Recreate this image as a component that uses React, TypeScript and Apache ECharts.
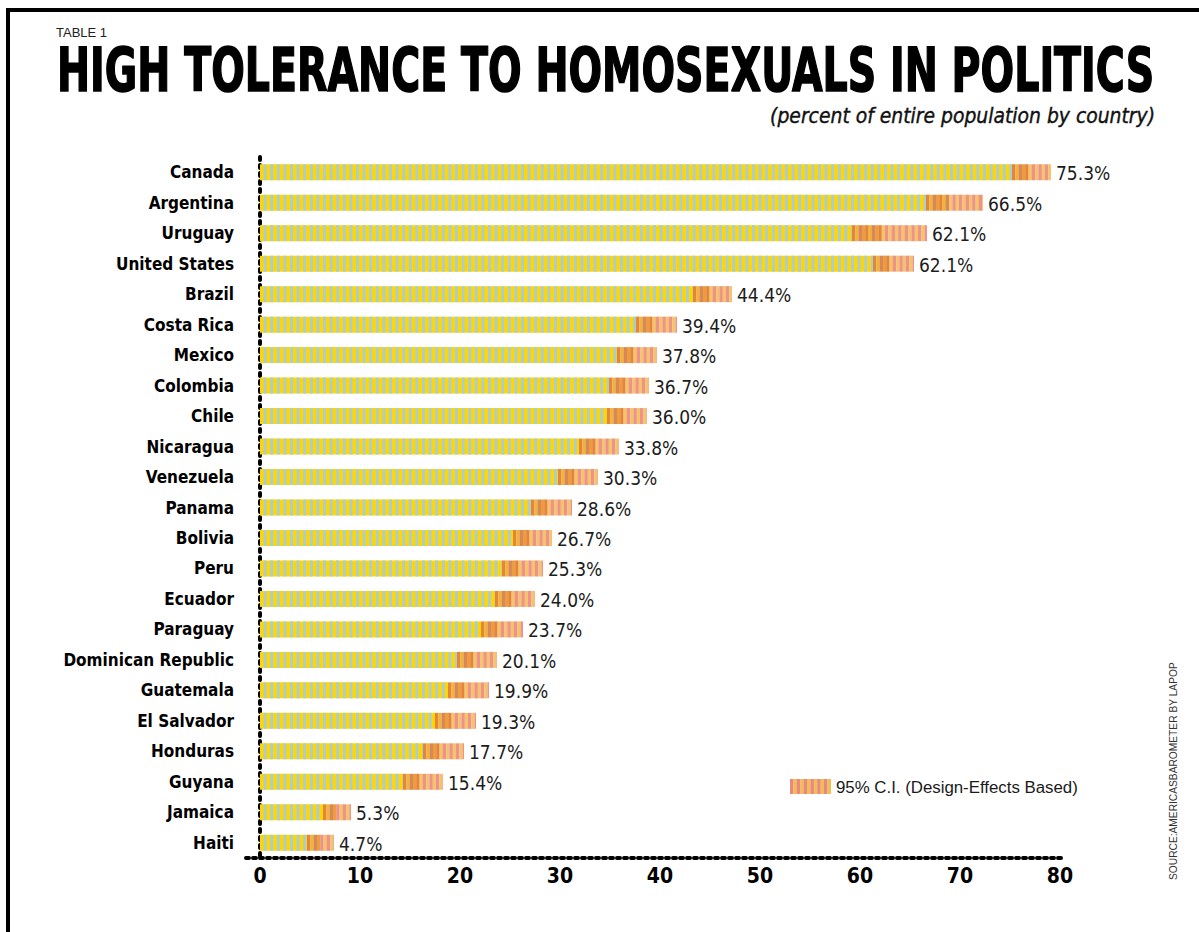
import React, { useEffect, useRef } from "react";
import * as echarts from "echarts";

const countries = [
  "Canada", "Argentina", "Uruguay", "United States", "Brazil", "Costa Rica",
  "Mexico", "Colombia", "Chile", "Nicaragua", "Venezuela", "Panama", "Bolivia",
  "Peru", "Ecuador", "Paraguay", "Dominican Republic", "Guatemala",
  "El Salvador", "Honduras", "Guyana", "Jamaica", "Haiti",
];
const values = [75.3, 66.5, 62.1, 62.1, 44.4, 39.4, 37.8, 36.7, 36.0, 33.8, 30.3, 28.6, 26.7, 25.3, 24.0, 23.7, 20.1, 19.9, 19.3, 17.7, 15.4, 5.3, 4.7];
// start of the drawn confidence segment (end of the solid bar)
const ciLow = [75.2, 66.6, 59.2, 61.3, 43.3, 37.6, 35.7, 34.9, 34.7, 31.9, 29.8, 27.1, 25.3, 24.2, 23.5, 22.1, 19.7, 18.8, 17.5, 16.3, 14.3, 6.3, 4.7];
// end of the drawn confidence segment
const ciHigh = [79.1, 72.3, 66.7, 65.4, 47.2, 41.7, 39.7, 38.9, 38.7, 35.9, 33.8, 31.2, 29.2, 28.3, 27.5, 26.3, 23.7, 22.9, 21.6, 20.4, 18.3, 9.1, 7.4];
const xTicks = [0, 10, 20, 30, 40, 50, 60, 70, 80];

const titleText = "HIGH TOLERANCE TO HOMOSEXUALS IN POLITICS";
const subtitleText = "(percent of entire population by country)";
const legendText = "95% C.I. (Design-Effects Based)";
const sourceText = "SOURCE:AMERICASBAROMETER BY LAPOP";

const NARROW = "'Liberation Sans Narrow', 'DejaVu Sans Condensed', 'Arial Narrow', sans-serif";
const SANS = "'Liberation Sans', Arial, sans-serif";

const YELLOW = "#FFD600";
const BLUE = "#A9CDD5";
const CI_A = ["#E5843A", "#F0B43A", "#D8875A", "#EE9D3E"];
const CI_B = ["#EE928A", "#F3C46C"];

function fitScale(text: string, font: string, target: number) {
  const ctx = document.createElement("canvas").getContext("2d");
  if (!ctx) return 1;
  ctx.font = font;
  const w = ctx.measureText(text).width;
  return w > 0 ? target / w : 1;
}

export default function App() {
  const ref = useRef<HTMLDivElement>(null);

  useEffect(() => {
    if (!ref.current) return;
    const chart = echarts.init(ref.current, null, { renderer: "svg" });

    const titleFont = `bold 60px ${NARROW}`;
    const subFont = `italic 22px ${NARROW}`;
    const legFont = `16px ${SANS}`;
    const srcFont = `11px ${SANS}`;
    const titleScale = fitScale(titleText, titleFont, 1098);
    const subScale = fitScale(subtitleText, subFont, 385);
    const legScale = fitScale(legendText, legFont, 242);
    const srcScale = fitScale(sourceText, srcFont, 218);

    const data = countries.map((c, i) => [i, ciLow[i], ciHigh[i], values[i]]);

    const renderItem = (params: any, api: any) => {
      const i = api.value(0);
      const low = api.value(1);
      const high = api.value(2);
      const p0 = api.coord([0, i]);
      const p1 = api.coord([low, i]);
      const p2 = api.coord([high, i]);
      const bh = 16;
      const y = p0[1] - bh / 2;
      const children: any[] = [];
      const rect = (x: number, w: number, fill: string) => ({
        type: "rect",
        shape: { x, y, width: w, height: bh },
        style: { fill },
        silent: true,
      });
      children.push(rect(p0[0], p1[0] - p0[0], YELLOW));
      for (let x = p0[0] + 3.6; x < p1[0]; x += 6.6) {
        children.push(rect(x, Math.min(3, p1[0] - x), BLUE));
      }
      const split = p1[0] + (p2[0] - p1[0]) * 0.38;
      let k = 0;
      for (let x = p1[0]; x < p2[0] - 0.2; x += 3.3, k++) {
        const color = x < split ? CI_A[k % CI_A.length] : CI_B[k % CI_B.length];
        children.push(rect(x, Math.min(3.5, p2[0] - x), color));
      }
      children.push({
        type: "text",
        silent: true,
        style: {
          text: values[params.dataIndex].toFixed(1) + "%",
          x: p2[0] + 5,
          y: p0[1] + 1,
          verticalAlign: "middle",
          align: "left",
          fill: "#1c1c1c",
          fontSize: 19,
          fontFamily: NARROW,
        },
      });
      return { type: "group", children };
    };

    const legendStripes: any[] = [];
    for (let j = 0; j < 12; j++) {
      legendStripes.push({
        type: "rect",
        shape: { x: 790 + j * 3.4, y: 779, width: 3.6, height: 15 },
        style: { fill: j % 2 === 0 ? "#E9897F" : "#F1BD57" },
      });
    }

    chart.setOption({
      animation: false,
      backgroundColor: "#ffffff",
      grid: { left: 246, right: 135, top: 157, bottom: 74, containLabel: false },
      xAxis: {
        type: "value",
        min: -1.4,
        max: 80.4,
        splitLine: { show: false },
        axisTick: { show: false },
        axisLine: { show: true, lineStyle: { color: "#000", width: 4, type: [3, 4] } },
        axisLabel: {
          customValues: xTicks,
          formatter: (v: number) => String(v),
          color: "#000",
          fontFamily: NARROW,
          fontWeight: "bold",
          fontSize: 21,
          margin: 7,
        },
      },
      yAxis: {
        type: "category",
        inverse: true,
        data: countries,
        axisTick: { show: false },
        splitLine: { show: false },
        axisLine: { show: true, lineStyle: { color: "#000", width: 4, type: [3, 5] } },
        axisLabel: {
          color: "#000",
          fontFamily: NARROW,
          fontWeight: "bold",
          fontSize: 17,
          margin: 12,
        },
      },
      series: [
        {
          type: "custom",
          renderItem,
          data,
          encode: { x: [1, 2], y: 0 },
          clip: false,
        },
      ],
      graphic: [
        {
          type: "rect",
          shape: { x: 8, y: 10, width: 1400, height: 1100 },
          style: { fill: "none", stroke: "#000", lineWidth: 4 },
          silent: true,
        },
        {
          type: "text",
          x: 56,
          y: 32,
          style: { text: "TABLE 1", fill: "#222", fontSize: 13, fontFamily: SANS, verticalAlign: "middle" },
        },
        {
          type: "text",
          x: 57,
          y: 70,
          scaleX: titleScale,
          style: {
            text: titleText,
            fill: "#000",
            stroke: "#000",
            lineWidth: 1.5,
            fontSize: 60,
            fontWeight: "bold",
            fontFamily: NARROW,
            verticalAlign: "middle",
          },
        },
        {
          type: "text",
          x: 1155,
          y: 115,
          scaleX: subScale,
          style: {
            text: subtitleText,
            fill: "#111",
            stroke: "#111",
            lineWidth: 0.4,
            fontSize: 22,
            fontStyle: "italic",
            fontFamily: NARROW,
            align: "right",
            verticalAlign: "middle",
          },
        },
        { type: "group", children: legendStripes },
        {
          type: "text",
          x: 836,
          y: 787,
          scaleX: legScale,
          style: { text: legendText, fill: "#1a1a1a", fontSize: 16, fontFamily: SANS, verticalAlign: "middle" },
        },
        {
          type: "text",
          x: 1173,
          y: 880,
          rotation: Math.PI / 2,
          scaleX: srcScale,
          style: { text: sourceText, fill: "#333", fontSize: 11, fontFamily: SANS, verticalAlign: "middle" },
        },
      ],
    });

    return () => chart.dispose();
  }, []);

  return (
    <div
      ref={ref}
      style={{ position: "absolute", left: 0, top: 0, width: 1199, height: 932, background: "#fff" }}
    />
  );
}
